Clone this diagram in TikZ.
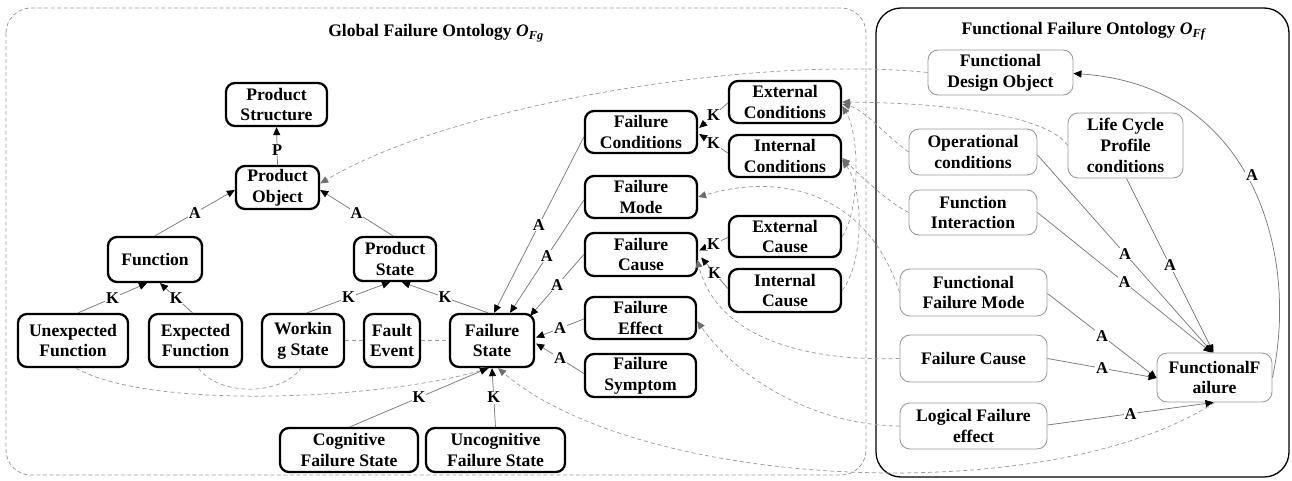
\documentclass[tikz,border=0pt]{standalone}
\usepackage{fontspec}
\setmainfont{Liberation Serif}
\usetikzlibrary{arrows.meta,calc}

\definecolor{edgegray}{HTML}{7A7A7A}
\definecolor{dashgray}{HTML}{9C9C9C}
\definecolor{tipgray}{HTML}{6E6E6E}
\definecolor{boxgray}{HTML}{9A9A9A}

\newcommand\ndfont{\fontsize{17.6}{20.8}\selectfont\bfseries}
\newcommand\lbfont{\fontsize{16.5}{18}\selectfont\bfseries}

\tikzset{
  gbox/.style={draw=black, line width=2.3pt, rounded corners=9pt, align=center,
               font=\ndfont, inner sep=0pt, fill=white},
  fbox/.style={draw=boxgray, line width=0.9pt, rounded corners=10pt, align=center,
               font=\ndfont, inner sep=0pt, fill=white},
  rel/.style={draw=edgegray, line width=0.75pt,
              -{Triangle[length=8pt,width=7pt,color=black]}},
  dsh/.style={draw=dashgray, line width=0.75pt, dash pattern=on 4pt off 3pt,
              -{Triangle[length=8pt,width=7pt,color=tipgray]}},
  dshl/.style={draw=dashgray, line width=0.75pt, dash pattern=on 4pt off 3pt},
  lab/.style={font=\lbfont, fill=white, inner sep=0.6pt},
}

\begin{document}
\begin{tikzpicture}[x=1pt,y=-1pt]
\useasboundingbox (0,0) rectangle (1292,480);

% ontology frames
\draw[draw=dashgray, line width=0.8pt, dash pattern=on 4pt off 2.5pt, rounded corners=25pt]
  (6,8) rectangle (866,475);
\draw[line width=1.3pt, rounded corners=25pt] (876,8) rectangle (1289,477);

\node[font=\fontsize{17.6}{20}\selectfont\bfseries] (tg) at (436,33)
  {Global Failure Ontology \textit{O}\textsubscript{\textit{Fg}}};
\node[font=\fontsize{17.6}{20}\selectfont\bfseries] (tf) at (1084,31)
  {Functional Failure Ontology \textit{O}\textsubscript{\textit{Ff}}};

% global failure ontology concepts
\node[gbox, minimum width=101pt, minimum height=43pt] (ps)  at (276.5,104.5) {Product\\Structure};
\node[gbox, minimum width=83pt,  minimum height=43pt] (po)  at (277.5,187.5) {Product\\Object};
\node[gbox, minimum width=94pt,  minimum height=45pt] (fn)  at (155,259.5)   {Function};
\node[gbox, minimum width=82pt,  minimum height=44pt] (pst) at (395,259)     {Product\\State};
\node[gbox, minimum width=110pt, minimum height=53pt] (uf)  at (73,340.5)    {Unexpected\\Function};
\node[gbox, minimum width=93pt,  minimum height=53pt] (ef)  at (195.5,340.5) {Expected\\Function};
\node[gbox, minimum width=82pt,  minimum height=53pt] (ws)  at (303,340.5)   {Workin\\g State};
\node[gbox, minimum width=56pt,  minimum height=53pt] (fe)  at (392,340.5)   {Fault\\Event};
\node[gbox, minimum width=84pt,  minimum height=53pt] (fs)  at (492,340.5)   {Failure\\State};
\node[gbox, minimum width=138pt, minimum height=44pt] (cfs) at (349,450)     {Cognitive\\Failure State};
\node[gbox, minimum width=139pt, minimum height=44pt] (ufs) at (495.5,450)   {Uncognitive\\Failure State};
\node[gbox, minimum width=112pt, minimum height=42pt] (fc)  at (641,132)     {Failure\\Conditions};
\node[gbox, minimum width=112pt, minimum height=42pt] (fm)  at (641,197)     {Failure\\Mode};
\node[gbox, minimum width=112pt, minimum height=43pt] (fca) at (641,254.5)   {Failure\\Cause};
\node[gbox, minimum width=111pt, minimum height=42pt] (fef) at (640.5,318)   {Failure\\Effect};
\node[gbox, minimum width=111pt, minimum height=43pt] (fsy) at (640.5,375.5) {Failure\\Symptom};
\node[gbox, minimum width=112pt, minimum height=42pt] (ec)  at (785,102)     {External\\Conditions};
\node[gbox, minimum width=112pt, minimum height=42pt] (ic)  at (785,156)     {Internal\\Conditions};
\node[gbox, minimum width=112pt, minimum height=41pt] (eca) at (785,236.5)   {External\\Cause};
\node[gbox, minimum width=112pt, minimum height=43pt] (ica) at (785,290.5)   {Internal\\Cause};

% functional failure ontology concepts
\node[fbox, minimum width=145pt, minimum height=45pt] (fdo) at (1000.5,72.5) {Functional\\Design Object};
\node[fbox, minimum width=128pt, minimum height=46pt] (oc)  at (973,152)     {Operational\\conditions};
\node[fbox, minimum width=115pt, minimum height=65pt] (lc)  at (1125.5,145.5) {Life Cycle\\Profile\\conditions};
\node[fbox, minimum width=128pt, minimum height=45pt] (fi)  at (973,212.5)   {Function\\Interaction};
\node[fbox, minimum width=147pt, minimum height=47pt] (ffm) at (973.5,292.5) {Functional\\Failure Mode};
\node[fbox, minimum width=147pt, minimum height=47pt] (fcr) at (973.5,358.5) {Failure Cause};
\node[fbox, minimum width=147pt, minimum height=46pt] (lfe) at (973.5,426)   {Logical Failure\\effect};
\node[fbox, minimum width=115pt, minimum height=49pt] (ff)  at (1214.5,377.5) {FunctionalF\\ailure};

% dashed correspondences between the two ontologies
\draw[dsh] (fdo.west) .. controls (760,55) and (455,103) .. ($(po.east)+(0,-4)$);
\draw[dsh] (lc.west) .. controls (1050,118) and (960,103) .. (ec.east);
\draw[dsh] (oc.west) .. controls (885,135) and (865,110) .. ($(ec.east)+(0,2)$);
\draw[dsh] (fi.west) .. controls (885,200) and (860,175) .. ($(ic.east)+(0,2)$);
\draw[dsh] (ffm.west) .. controls (870,200) and (790,170) .. (fm.east);
\draw[dsh] (fcr.west) .. controls (790,362) and (715,330) .. ($(fca.east)+(-1,5)$);
\draw[dsh] (lfe.west) .. controls (810,425) and (735,375) .. ($(fef.east)+(0,3)$);
\draw[dsh] (ff.south) .. controls (1050,510) and (640,490) .. ($(fs.south)+(6,0)$);
\draw[dsh] ($(uf.south)+(3,0)$) .. controls (150,410) and (380,400) .. ($(fs.south)+(-3,0)$);
\draw[dsh] (eca.east) .. controls (860,210) and (860,135) .. ($(ec.east)+(0,4)$);
\draw[dsh] (ica.east) .. controls (864,262) and (864,190) .. ($(ic.east)+(0,4)$);
\draw[dshl] ($(ef.south)+(3,0)$) .. controls +(20,28) and +(-20,28) .. ($(ws.south)+(-2,0)$);
\draw[dshl] (ws.east) -- (fe.west);
\draw[dshl] (fe.east) -- (fs.west);

% relations inside the global ontology
\draw[rel] (po.north) -- node[lab,pos=0.4]{P} (ps.south);
\draw[rel] (fn.north) -- node[lab]{A} ($(po.west)+(0,2.5)$);
\draw[rel] ($(pst.north)+(-2,0)$) -- node[lab]{A} ($(po.east)+(0,2.5)$);
\draw[rel] ($(uf.north)+(5,0)$) -- node[lab]{K} ($(fn.south)+(-8,0)$);
\draw[rel] ($(ef.north)+(-3,0)$) -- node[lab]{K} ($(fn.south)+(5,0)$);
\draw[rel] ($(ws.north)+(4,0)$) -- node[lab]{K} ($(pst.south)+(-5,0)$);
\draw[rel] ($(fs.north)+(-4,0)$) -- node[lab]{K} ($(pst.south)+(7,0)$);
\draw[rel] ($(cfs.north)+(1,0)$) -- node[lab]{K} ($(fs.south)+(-4,0)$);
\draw[rel] (ufs.north) -- node[lab]{K} (fs.south);
\draw[rel] ($(fc.west)+(0,5)$) -- node[lab]{A} ($(fs.north)+(2,0)$);
\draw[rel] ($(fm.west)+(0,3)$) -- node[lab]{A} ($(fs.north)+(18,0)$);
\draw[rel] (fca.west) -- node[lab]{A} ($(fs.north east)+(-5,3)$);
\draw[rel] ($(fef.west)+(0,1)$) -- node[lab]{A} ($(fs.east)+(1,-3)$);
\draw[rel] ($(fsy.west)+(0,-2)$) -- node[lab]{A} ($(fs.east)+(1,3)$);
\draw[rel] ($(ec.west)+(0,1)$) -- node[lab]{K} ($(fc.east)+(1,-4)$);
\draw[rel] ($(ic.west)+(0,-3)$) -- node[lab]{K} ($(fc.east)+(1,2)$);
\draw[rel] ($(eca.west)+(0,1)$) -- node[lab]{K} ($(fca.east)+(1,-4)$);
\draw[rel] ($(ica.west)+(0,-2)$) -- node[lab]{K} ($(fca.east)+(3,3)$);

% relations inside the functional ontology
\draw[rel] ($(oc.east)+(0,3)$) -- node[lab]{A} ($(ff.north)+(-2,0)$);
\draw[rel] (fi.east) -- node[lab]{A} ($(ff.north)+(-3,0)$);
\draw[rel] ($(lc.south)+(1,0)$) -- node[lab]{A} ($(ff.north)+(-1,0)$);
\draw[rel] ($(ffm.east)+(0,1)$) -- node[lab]{A} ($(ff.west)+(0,0.5)$);
\draw[rel] (fcr.east) -- node[lab]{A} ($(ff.west)+(0,0.5)$);
\draw[rel] ($(lfe.east)+(0,-1)$) -- node[lab]{A} ($(ff.south)+(-1,0)$);
\draw[rel] (ff.east) .. controls (1300,250) and (1250,85) .. ($(fdo.east)+(0,1)$);
\node[lab] (la) at (1252,175) {A};
\end{tikzpicture}
\end{document}
